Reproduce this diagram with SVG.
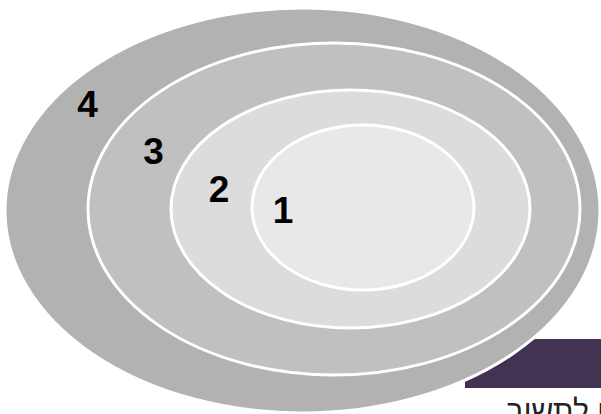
<svg xmlns="http://www.w3.org/2000/svg" width="601" height="414" viewBox="0 0 601 414">
  <style>
    .ring { stroke: #ffffff; stroke-width: 3; }
    .num { font-family: "Liberation Sans", Arial, sans-serif; font-weight: bold; font-size: 37px; fill: #000000; text-anchor: middle; }
    .caption { font-family: "Liberation Sans", "DejaVu Sans", sans-serif; font-size: 30px; fill: #222222; text-anchor: end; }
  </style>
  <rect width="601" height="414" fill="#ffffff"/>
  <rect id="band" x="465" y="339" width="136" height="49" fill="#433353"/>
  <g id="ring4">
    <ellipse class="ring" cx="302.5" cy="210.5" rx="297.5" ry="202.5" fill="#b2b2b2"/>
    <text class="num" x="87.5" y="117">4</text>
  </g>
  <g id="ring3">
    <ellipse class="ring" cx="334" cy="209" rx="246" ry="166" fill="#c0c0c0"/>
    <text class="num" x="153.5" y="164">3</text>
  </g>
  <g id="ring2">
    <ellipse class="ring" cx="350.5" cy="209" rx="179.5" ry="119" fill="#dcdcdc"/>
    <text class="num" x="219" y="202">2</text>
  </g>
  <g id="ring1">
    <ellipse class="ring" cx="363" cy="207.5" rx="111" ry="82.5" fill="#e8e8e8"/>
    <text class="num" x="283" y="223">1</text>
  </g>
  <g id="connectors"></g>
  <text class="caption" x="605" y="421">ו לתשוב</text>
</svg>
